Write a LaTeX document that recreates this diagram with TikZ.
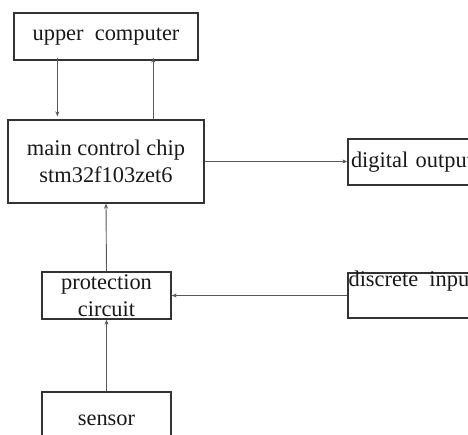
\documentclass[tikz,border=0pt]{standalone}
\usepackage{fontspec}
\setmainfont{Liberation Serif}
\usetikzlibrary{arrows.meta}
\begin{document}
\begin{tikzpicture}[x=1pt,y=-1pt,
  box/.style={draw=black!80,line width=1.3pt,inner sep=0pt,align=center,
    font=\fontsize{22.4}{27}\selectfont,text=black!90},
  arr/.style={draw=black!65,line width=0.9pt,-{Stealth[length=5pt,width=4pt]}}]
\useasboundingbox (0,0) rectangle (468,434);
\clip (0,0) rectangle (468,434);
\fill[white] (0,0) rectangle (468,434);
\node[box,minimum width=184pt,minimum height=47pt] (upper) at (106,36.5) {upper\ \ computer};
\node[box,minimum width=196pt,minimum height=83pt] (main) at (106,161.5) {main control chip\\stm32f103zet6};
\node[box,minimum width=132pt,minimum height=46pt,text width=126pt,align=left] (dout) at (414,162) {digital output};
\node[box,minimum width=132pt,minimum height=45pt] (din) at (414,295.5) {};
\node[anchor=north west,inner sep=0pt,font=\fontsize{22.4}{27}\selectfont,text=black!90] (dintext) at ([xshift=1pt,yshift=2pt]din.north west) {discrete\ \ input};
\node[box,minimum width=129pt,minimum height=47pt] (prot) at (106.5,295.5) {protection\\circuit};
\node[box,minimum width=129pt,minimum height=56pt] (sensor) at (106.5,420) {sensor};
\draw[arr] ([xshift=44pt,yshift=3pt]upper.south west) -- ([xshift=44pt,yshift=3pt]upper.south west |- main.north);
\draw[arr] ([xshift=146pt]main.north west) -- ([xshift=146pt,yshift=3pt]main.north west |- upper.south);
\draw[arr] (main.east) -- (main.east -| dout.west);
\draw[arr] (din.west) -- (din.west -| prot.east);
\draw[arr] (prot.north) -- (main.south);
\draw[arr] (sensor.north) -- (prot.south);
\end{tikzpicture}
\end{document}
